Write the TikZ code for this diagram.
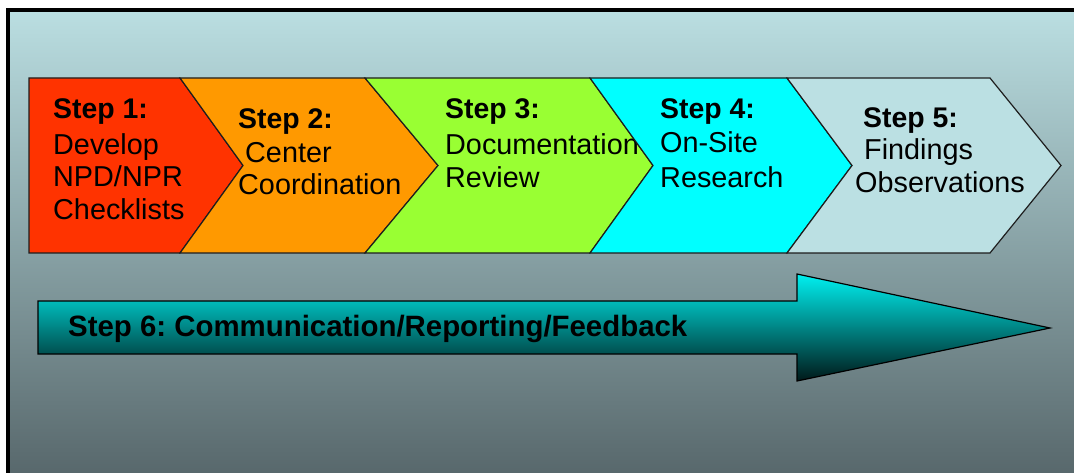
\documentclass[tikz,border=0pt]{standalone}
\usepackage{fontspec}
\setmainfont{Liberation Sans}
\frenchspacing
\definecolor{bgtop}{RGB}{186,222,225}
\definecolor{bgmid}{RGB}{152,180,183}
\definecolor{bgbot}{RGB}{88,104,108}
\definecolor{c1}{RGB}{255,51,0}
\definecolor{c2}{RGB}{255,153,0}
\definecolor{c3}{RGB}{153,255,51}
\definecolor{c4}{RGB}{0,255,255}
\definecolor{c5}{RGB}{187,224,227}
\definecolor{edge}{RGB}{30,30,30}
\definecolor{artop}{RGB}{0,240,240}
\definecolor{armid}{RGB}{0,175,175}
\definecolor{arbot}{RGB}{0,25,25}
\begin{document}
\begin{tikzpicture}[x=1pt,y=-1pt,
  chev/.style={draw=edge, line width=1.2pt, line join=miter},
  lbl/.style={anchor=base west, inner sep=0pt, text=black, font=\fontsize{28.8}{34}\selectfont},
  blbl/.style={anchor=base west, inner sep=0pt, text=black, font=\fontsize{28.4}{34}\selectfont\bfseries},
  bigarrow/.style={draw=black, line width=1.2pt, top color=artop, middle color=armid, bottom color=arbot}]
\useasboundingbox (0,0) rectangle (1074,473);
\fill[white] (0,0) rectangle (1074,473);
% background
\fill[top color=bgtop, middle color=bgmid, bottom color=bgbot] (10,12) rectangle (1074,473);
\draw[line width=4pt] (8,473) -- (8,10) -- (1074,10);
% chevron 1
\path[chev, fill=c1] (29,78) -- (180,78) -- (243,165.5) -- (180,253) -- (29,253) -- cycle;
\node[blbl] (s1a) at (53,119) {Step 1:};
\node[lbl] (s1b) at (53,155) {Develop};
\node[lbl] (s1c) at (53,187) {NPD/NPR};
\node[lbl] (s1d) at (53,220) {Checklists};
% chevron 2
\path[chev, fill=c2] (180,78) -- (365,78) -- (438,165.5) -- (365,253) -- (180,253) -- (243,165.5) -- cycle;
\node[blbl] (s2a) at (238,129) {Step 2:};
\node[lbl] (s2b) at (245,163) {Center};
\node[lbl] (s2c) at (238,195) {Coordination};
% chevron 3
\path[chev, fill=c3] (365,78) -- (590,78) -- (653,165.5) -- (590,253) -- (365,253) -- (438,165.5) -- cycle;
\node[blbl] (s3a) at (445,119) {Step 3:};
\node[lbl] (s3b) at (445,155) {Documentation};
\node[lbl] (s3c) at (445,188) {Review};
% chevron 4
\path[chev, fill=c4] (590,78) -- (787,78) -- (852,165.5) -- (787,253) -- (590,253) -- (653,165.5) -- cycle;
\node[blbl] (s4a) at (660,119) {Step 4:};
\node[lbl] (s4b) at (660,153) {On-Site};
\node[lbl] (s4c) at (660,188) {Research};
% chevron 5
\path[chev, fill=c5] (787,78) -- (990,78) -- (1061,165.5) -- (990,253) -- (787,253) -- (852,165.5) -- cycle;
\node[blbl] (s5a) at (863,128) {Step 5:};
\node[lbl] (s5b) at (864,160) {Findings};
\node[lbl] (s5c) at (855,193) {Observations};
% step 6 arrow
\path[bigarrow] (38,301) -- (797,301) -- (797,274) -- (1050,328) -- (797,381) -- (797,354) -- (38,354) -- cycle;
\node[anchor=base west, inner sep=0pt, text=black, font=\fontsize{29.4}{34}\selectfont\bfseries] (s6) at (68,336) {Step 6: Communication/Reporting/Feedback};
\end{tikzpicture}
\end{document}
